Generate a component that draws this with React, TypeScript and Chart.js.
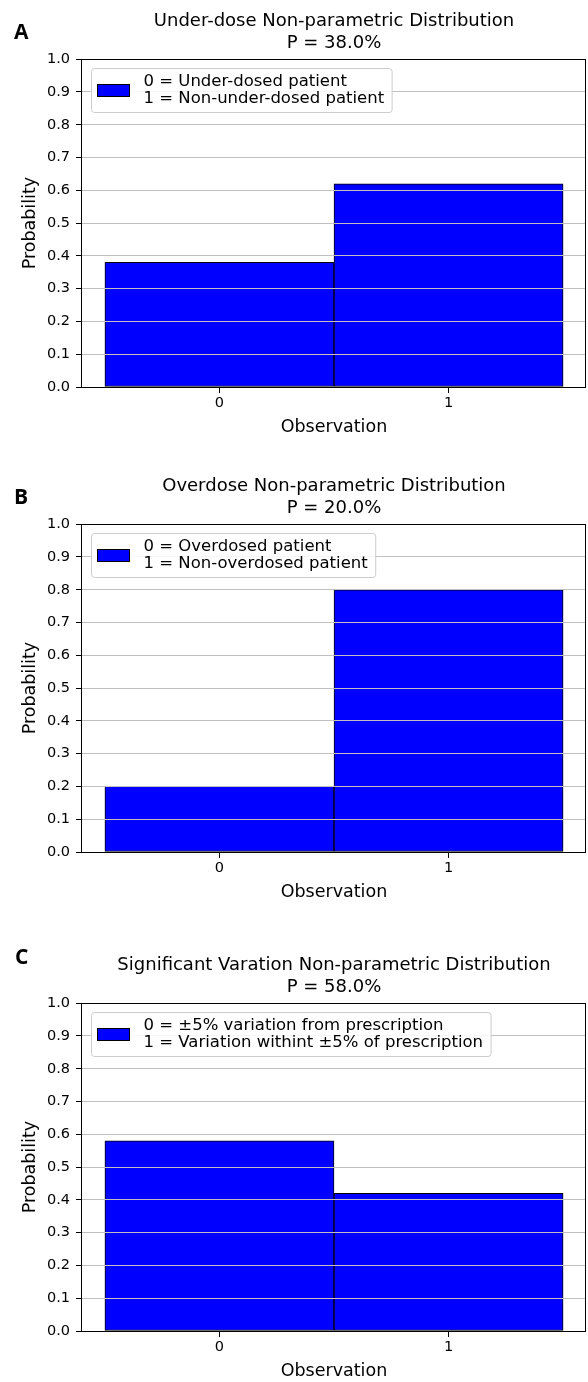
import React, { useEffect, useRef } from "react";
import { Chart, registerables } from "chart.js";

Chart.register(...registerables);

// ---------- data ----------
const observations = [0, 1];
const probabilityTicks = [0, 0.1, 0.2, 0.3, 0.4, 0.5, 0.6, 0.7, 0.8, 0.9, 1.0];

const underdoseProbabilities = [0.38, 0.62];
const overdoseProbabilities = [0.2, 0.8];
const variationProbabilities = [0.58, 0.42];

const panelLetters = ["A", "B", "C"];
const underdoseTitle = ["Under-dose Non-parametric Distribution", "P = 38.0%"];
const overdoseTitle = ["Overdose Non-parametric Distribution", "P = 20.0%"];
const variationTitle = ["Significant Varation Non-parametric Distribution", "P = 58.0%"];

const underdoseLegend = ["0 = Under-dosed patient", "1 = Non-under-dosed patient"];
const overdoseLegend = ["0 = Overdosed patient", "1 = Non-overdosed patient"];
const variationLegend = [
  "0 = \u00b15% variation from prescription",
  "1 = Variation withint \u00b15% of prescription",
];

const xAxisTitle = "Observation";
const yAxisTitle = "Probability";

const FONT = '"DejaVu Sans", sans-serif';

const decorPlugin = {
  id: "panelDecor",
  afterDraw(chart: any, _args: any, opts: any) {
    const { ctx, chartArea } = chart;
    const { left, top, right, bottom } = chartArea;
    ctx.save();
    // frame (spines)
    ctx.strokeStyle = "#000";
    ctx.lineWidth = 1;
    const l = Math.round(left) - 0.5;
    const t = Math.round(top) + 0.5;
    const r = Math.round(right) - 0.5;
    const b = Math.round(bottom) + 0.5;
    ctx.strokeRect(l, t, r - l, b - t);

    // legend
    const lines: string[] = opts.lines || [];
    ctx.font = `16.5px ${FONT}`;
    const tw = Math.max(...lines.map((s) => ctx.measureText(s).width));
    const bx = Math.round(left) + 9.5;
    const by = Math.round(top) + 9.5;
    const bw = 52 + tw + 8;
    const bh = 44;
    ctx.beginPath();
    const rad = 3;
    ctx.moveTo(bx + rad, by);
    ctx.lineTo(bx + bw - rad, by);
    ctx.quadraticCurveTo(bx + bw, by, bx + bw, by + rad);
    ctx.lineTo(bx + bw, by + bh - rad);
    ctx.quadraticCurveTo(bx + bw, by + bh, bx + bw - rad, by + bh);
    ctx.lineTo(bx + rad, by + bh);
    ctx.quadraticCurveTo(bx, by + bh, bx, by + bh - rad);
    ctx.lineTo(bx, by + rad);
    ctx.quadraticCurveTo(bx, by, bx + rad, by);
    ctx.closePath();
    ctx.fillStyle = "rgba(255,255,255,0.85)";
    ctx.fill();
    ctx.strokeStyle = "#cccccc";
    ctx.stroke();

    // handle
    const hx = Math.round(left) + 15;
    const hy = Math.round(top) + 25;
    ctx.fillStyle = "#0000ff";
    ctx.fillRect(hx, hy, 33, 13);
    ctx.strokeStyle = "#000";
    ctx.strokeRect(hx + 0.5, hy + 0.5, 32, 12);

    ctx.fillStyle = "#000";
    ctx.textAlign = "left";
    ctx.textBaseline = "middle";
    const cy = by + bh / 2;
    ctx.fillText(lines[0], bx + 52, cy - 8.5);
    ctx.fillText(lines[1], bx + 52, cy + 8.5);

    // panel letter
    ctx.font = `bold 21px "Open Sans", "Liberation Sans", sans-serif`;
    ctx.textBaseline = "alphabetic";
    ctx.fillText(opts.letter, opts.letterX, opts.letterY);
    ctx.restore();
  },
};

type PanelProps = {
  values: number[];
  title: string[];
  legend: string[];
  letter: string;
  letterX: number;
  letterY: number;
  top: number;
};

function Panel({ values, title, legend, letter, letterX, letterY, top }: PanelProps) {
  const ref = useRef<HTMLCanvasElement>(null);
  useEffect(() => {
    const chart = new Chart(ref.current as HTMLCanvasElement, {
      type: "bar",
      data: {
        datasets: [
          {
            data: observations.map((x, i) => ({ x, y: values[i] })),
            backgroundColor: "#0000ff",
            borderColor: "#000000",
            borderWidth: 1,
            borderSkipped: false,
            barPercentage: 1,
            categoryPercentage: 1,
          } as any,
        ],
      },
      options: {
        responsive: false,
        animation: false,
        devicePixelRatio: 1,
        events: [],
        layout: { padding: { left: 18, right: 2, top: 0, bottom: 0 } },
        plugins: {
          legend: { display: false },
          tooltip: { enabled: false },
          title: {
            display: true,
            text: title,
            fullSize: false,
            color: "#000",
            font: { family: FONT, size: 18, weight: "normal", lineHeight: 1.2 },
            padding: { top: 11, bottom: 5 },
          },
          panelDecor: { lines: legend, letter, letterX, letterY },
        } as any,
        scales: {
          x: {
            type: "linear",
            min: -0.6,
            max: 1.6,
            offset: false,
            afterBuildTicks: (s: any) => {
              s.ticks = observations.map((v) => ({ value: v }));
            },
            afterFit: (s: any) => {
              s.height = 51;
            },
            ticks: {
              callback: (v: any) => String(v),
              color: "#000",
              font: { family: FONT, size: 14.5 },
              padding: 2,
              maxRotation: 0,
              autoSkip: false,
            },
            grid: {
              offset: false,
              drawOnChartArea: false,
              drawTicks: true,
              tickLength: 6,
              tickColor: "#000",
            },
            border: { display: false },
            title: {
              display: true,
              text: xAxisTitle,
              color: "#000",
              font: { family: FONT, size: 17.5, lineHeight: 1.2 },
              padding: 0,
            },
          },
          y: {
            type: "linear",
            min: 0,
            max: 1,
            afterBuildTicks: (s: any) => {
              s.ticks = probabilityTicks.map((v) => ({ value: v }));
            },
            afterFit: (s: any) => {
              s.width = 64;
            },
            ticks: {
              callback: (v: any) => Number(v).toFixed(1),
              color: "#000",
              font: { family: FONT, size: 14.5 },
              padding: 6,
              autoSkip: false,
            },
            grid: {
              color: "#c0c0c0",
              lineWidth: 1,
              drawTicks: true,
              tickLength: 6,
              tickColor: "#000",
              z: 1,
            },
            border: { display: false },
            title: {
              display: true,
              text: yAxisTitle,
              color: "#000",
              font: { family: FONT, size: 17.5, lineHeight: 1.2 },
              padding: { top: 2, bottom: 0 },
            },
          },
        },
      } as any,
      plugins: [decorPlugin],
    });
    return () => chart.destroy();
  }, []);
  return (
    <canvas
      ref={ref}
      width={588}
      height={438}
      style={{ position: "absolute", left: 0, top, display: "block" }}
    />
  );
}

export default function App() {
  return (
    <div
      style={{
        position: "absolute",
        left: 0,
        top: 0,
        width: 588,
        height: 1382,
        background: "#fff",
        overflow: "hidden",
      }}
    >
      <Panel
        values={underdoseProbabilities}
        title={underdoseTitle}
        legend={underdoseLegend}
        letter={panelLetters[0]}
        letterX={14}
        letterY={39}
        top={0}
      />
      <Panel
        values={overdoseProbabilities}
        title={overdoseTitle}
        legend={overdoseLegend}
        letter={panelLetters[1]}
        letterX={14}
        letterY={39}
        top={465}
      />
      <Panel
        values={variationProbabilities}
        title={variationTitle}
        legend={variationLegend}
        letter={panelLetters[2]}
        letterX={15}
        letterY={20}
        top={944}
      />
    </div>
  );
}
